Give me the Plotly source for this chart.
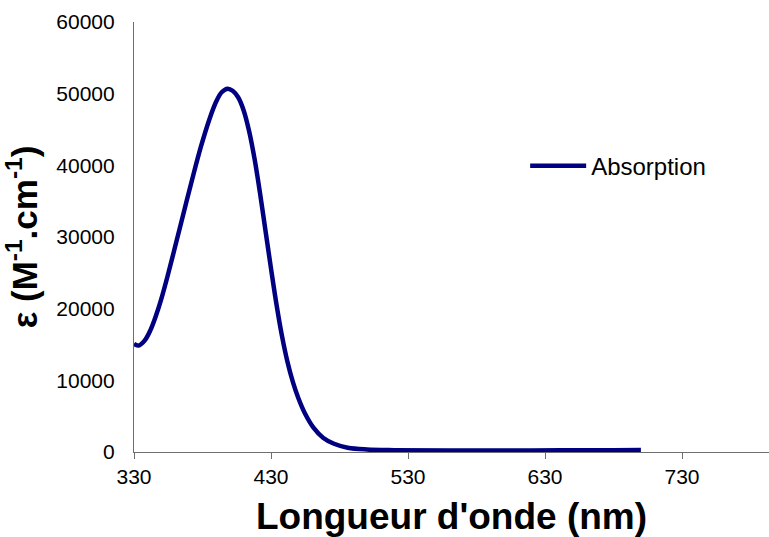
import plotly.graph_objects as go

# Absorption spectrum: wavelength (nm) vs molar extinction coefficient
wavelength_nm = [330, 333.5, 338, 342, 346, 350, 355, 361, 367, 373, 379, 385,
                 390, 394, 398.4, 402, 406, 410, 414, 418, 422, 426, 430, 434,
                 438, 442, 446, 450, 455, 461, 468, 476, 486, 500, 520, 560,
                 620, 680, 700]
epsilon = [15100, 14850, 15600, 17000, 19000, 21400, 24900, 29400, 33950, 38450,
           42700, 46400, 48900, 50200, 50700, 50400, 49500, 47700, 44800, 40900,
           36100, 30850, 25600, 20600, 16200, 12600, 9750, 7500, 5300, 3400,
           2000, 1150, 600, 350, 250, 200, 220, 260, 270]

x_ticks = [330, 430, 530, 630, 730]
y_ticks = [0, 10000, 20000, 30000, 40000, 50000, 60000]

FONT = "Liberation Sans, Arial, sans-serif"
AXIS_GREY = "#6e6e6e"

fig = go.Figure()
fig.add_trace(go.Scatter(
    x=wavelength_nm, y=epsilon, mode="lines", name="Absorption",
    line=dict(color="#000080", width=4.5, shape="spline", smoothing=1.0),
))

fig.update_layout(
    width=769, height=537,
    margin=dict(l=134, r=0, t=22, b=85, pad=0),
    paper_bgcolor="white", plot_bgcolor="white",
    font=dict(family=FONT, color="black", size=21),
    showlegend=True,
    legend=dict(x=0.616, y=0.665, xanchor="left", yanchor="middle",
                bgcolor="rgba(0,0,0,0)", font=dict(size=24, family=FONT),
                itemwidth=56),
    xaxis=dict(
        range=[330, 793.5], tickvals=x_ticks, ticktext=[str(v) for v in x_ticks],
        showgrid=False, zeroline=False, showline=True, linecolor=AXIS_GREY,
        linewidth=1.2, ticks="outside", ticklen=6, tickcolor=AXIS_GREY,
        tickfont=dict(size=21, family=FONT),
        title=dict(text="Longueur d'onde (nm)", standoff=17,
                   font=dict(size=37, family=FONT, weight="bold")),
    ),
    yaxis=dict(
        range=[0, 60000], tickvals=y_ticks, ticktext=[str(v) for v in y_ticks],
        showgrid=False, zeroline=False, showline=True, linecolor=AXIS_GREY,
        linewidth=1.2, ticks="", ticklabelstandoff=14,
        tickfont=dict(size=21, family=FONT),
        title=dict(text="ε (M<sup>-1</sup>.cm<sup>-1</sup>)", standoff=8,
                   font=dict(size=35, family=FONT, weight="bold")),
    ),
)

fig.write_html("out.html")
